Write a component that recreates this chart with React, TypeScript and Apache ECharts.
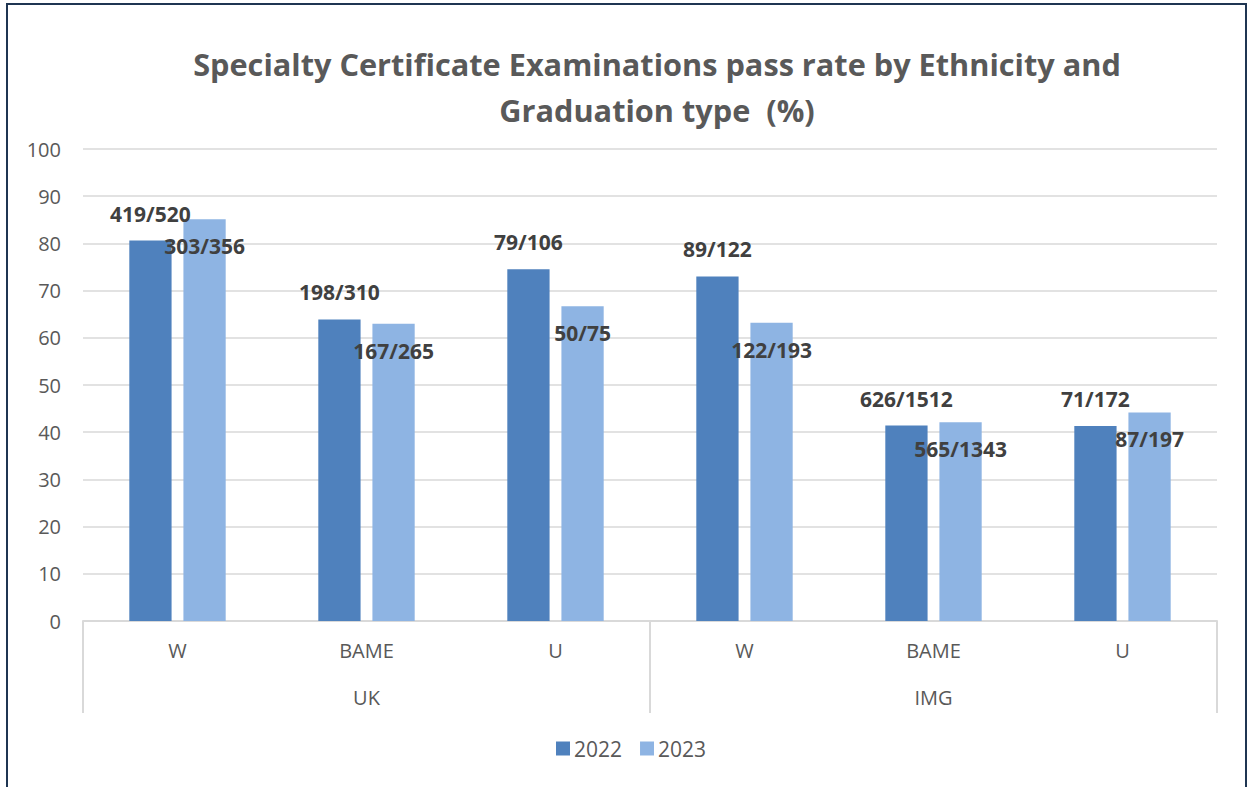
import React, { useEffect, useRef } from "react";
import * as echarts from "echarts";

const categories = ["W", "BAME", "U", "W", "BAME", "U"];
const groups = ["UK", "IMG"];
const yTicks = [0, 10, 20, 30, 40, 50, 60, 70, 80, 90, 100];
const rate2022 = [80.6, 63.9, 74.5, 73.0, 41.4, 41.3];
const rate2023 = [85.1, 63.0, 66.7, 63.2, 42.1, 44.2];
const labels2022 = ["419/520", "198/310", "79/106", "89/122", "626/1512", "71/172"];
const labels2023 = ["303/356", "167/265", "50/75", "122/193", "565/1343", "87/197"];
const seriesNames = ["2022", "2023"];

const FONT = "'Open Sans', 'DejaVu Sans', sans-serif";
const GRID = "#d9d9d9";
const TEXT = "#595959";

export default function App() {
  const ref = useRef<HTMLDivElement>(null);
  useEffect(() => {
    if (!ref.current) return;
    const chart = echarts.init(ref.current, undefined, { renderer: "svg" });
    const labelStyle = {
      show: true,
      fontFamily: FONT,
      fontWeight: "bold",
      fontSize: 21,
      lineHeight: 24,
      color: "#404040",
    };
    chart.setOption({
      animation: false,
      backgroundColor: "#ffffff",
      textStyle: { fontFamily: FONT },
      title: {
        text: "Specialty Certificate Examinations pass rate by Ethnicity and\nGraduation type  (%)",
        left: 652,
        top: 36,
        textAlign: "center",
        textStyle: {
          fontFamily: FONT,
          fontWeight: "bold",
          fontSize: 30.7,
          lineHeight: 46,
          color: TEXT,
        },
      },
      legend: {
        data: seriesNames,
        left: 551,
        top: 733,
        itemWidth: 14,
        itemHeight: 14,
        itemGap: 18,
        icon: "rect",
        textStyle: { fontFamily: FONT, fontSize: 21, color: TEXT, padding: [0, 0, 0, -1] },
      },
      grid: { left: 83, right: 30, top: 149, bottom: 166, containLabel: false },
      xAxis: [
        {
          type: "category",
          data: categories,
          position: "bottom",
          axisLine: { show: true, lineStyle: { color: GRID, width: 2 } },
          axisTick: { show: false },
          axisLabel: { fontFamily: FONT, fontSize: 20, color: TEXT, margin: 19 },
        },
        {
          type: "category",
          data: groups,
          position: "bottom",
          axisLine: { show: false },
          axisTick: { show: true, length: 92, interval: 0, lineStyle: { color: GRID, width: 2 } },
          axisLabel: { fontFamily: FONT, fontSize: 20, color: TEXT, margin: 66 },
        },
      ],
      yAxis: {
        type: "value",
        min: 0,
        max: 100,
        interval: 10,
        axisLine: { show: false },
        axisTick: { show: false },
        splitLine: { lineStyle: { color: GRID, width: 1.5 } },
        axisLabel: {
          fontFamily: FONT,
          fontSize: 20,
          color: TEXT,
          margin: 22,
          formatter: (v: number) => (yTicks.includes(v) ? String(v) : ""),
        },
      },
      series: [
        {
          name: seriesNames[0],
          type: "bar",
          xAxisIndex: 0,
          data: rate2022,
          barGap: "28%",
          barCategoryGap: "49%",
          itemStyle: { color: "#4f81bd" },
          label: {
            ...labelStyle,
            position: "top",
            distance: 15,
            formatter: (p: any) => labels2022[p.dataIndex],
          },
        },
        {
          name: seriesNames[1],
          type: "bar",
          xAxisIndex: 0,
          data: rate2023,
          itemStyle: { color: "#8eb4e3" },
          label: {
            ...labelStyle,
            position: "insideTop",
            distance: 15,
            formatter: (p: any) => labels2023[p.dataIndex],
          },
        },
      ],
      graphic: [
        {
          type: "rect",
          shape: { x: 7, y: 4, width: 1239, height: 820 },
          style: { fill: "none", stroke: "#1f3552", lineWidth: 2 },
          silent: true,
          z: 100,
        },
      ],
    });
    return () => chart.dispose();
  }, []);
  return (
    <div
      ref={ref}
      style={{ position: "absolute", left: 0, top: 0, width: 1247, height: 787 }}
    />
  );
}
